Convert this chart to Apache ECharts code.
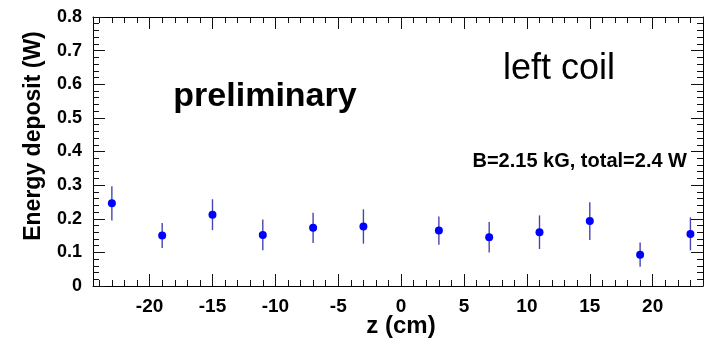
<!DOCTYPE html>
<html>
<head>
<meta charset="utf-8">
<script src="https://cdn.jsdelivr.net/npm/echarts@6/dist/echarts.min.js"></script>
<style>
html,body{margin:0;padding:0;background:#fff;}
#chart{width:708px;height:340px;}
</style>
</head>
<body>
<div id="chart"></div>
<script>
// ---- data ----
const zPositions = [-23, -19, -15, -11, -7, -3, 3, 7, 11, 15, 19, 23];
const energy     = [0.246, 0.150, 0.212, 0.152, 0.173, 0.177, 0.165, 0.145, 0.160, 0.193, 0.093, 0.155];
const errors     = [0.051, 0.037, 0.046, 0.046, 0.045, 0.051, 0.042, 0.045, 0.050, 0.056, 0.036, 0.049];
const xMajorTicks = [-20, -15, -10, -5, 0, 5, 10, 15, 20];
const xMinorTicks = [];
for (let v = -24; v <= 24; v++) xMinorTicks.push(v);
const yMin = 0, yMax = 0.8, yStep = 0.1;
const xMin = -24.5, xMax = 24;

const FONT = '"Liberation Sans", Arial, Helvetica, sans-serif';

const chart = echarts.init(document.getElementById('chart'), null, {renderer: 'canvas'});

function xAxisCfg(pos, ticks, len, showLine, showLabel) {
  return {
    type: 'value', position: pos, min: xMin, max: xMax,
    axisLine: {show: showLine, onZero: false, lineStyle: {color: '#000', width: 1}},
    axisTick: {show: true, inside: true, length: len, customValues: ticks, lineStyle: {color: '#111', width: 1}},
    axisLabel: showLabel ? {show: true, customValues: xMajorTicks, margin: 11, color: '#000',
      fontFamily: FONT, fontWeight: 'bold', fontSize: 19} : {show: false},
    splitLine: {show: false}
  };
}
function yAxisCfg(pos, showLabel) {
  return {
    type: 'value', position: pos, min: yMin, max: yMax, interval: yStep,
    axisLine: {show: true, onZero: false, lineStyle: {color: '#000', width: 1}},
    axisTick: {show: true, inside: true, length: 12, lineStyle: {color: '#111', width: 1}},
    minorTick: {show: true, splitNumber: 5, length: 6, lineStyle: {color: '#111', width: 1}},
    axisLabel: showLabel ? {show: true, margin: 11, color: '#000', fontFamily: FONT, fontWeight: 'bold', fontSize: 18,
      formatter: v => (v === 0 ? '0' : v.toFixed(1))} : {show: false},
    splitLine: {show: false}
  };
}

const option = {
  animation: false,
  backgroundColor: '#fff',
  grid: {left: 93, top: 17, width: 610, height: 269, containLabel: false},
  xAxis: [
    xAxisCfg('bottom', xMajorTicks, 12, true, true),
    xAxisCfg('bottom', xMinorTicks, 6, false, false),
    xAxisCfg('top', xMajorTicks, 12, true, false),
    xAxisCfg('top', xMinorTicks, 6, false, false)
  ],
  yAxis: [yAxisCfg('left', true), yAxisCfg('right', false)],
  series: [
    {
      type: 'custom',
      xAxisIndex: 0, yAxisIndex: 0,
      data: zPositions.map((z, i) => [z, energy[i], errors[i]]),
      encode: {x: 0, y: 1},
      z: 2,
      renderItem: function (params, api) {
        const x = api.value(0), v = api.value(1), e = api.value(2);
        const p1 = api.coord([x, v + e]);
        const p2 = api.coord([x, v - e]);
        return {type: 'line', shape: {x1: p1[0], y1: p1[1], x2: p2[0], y2: p2[1]},
          style: {stroke: '#4646b2', lineWidth: 1.4}};
      }
    },
    {
      type: 'scatter',
      xAxisIndex: 0, yAxisIndex: 0,
      data: zPositions.map((z, i) => [z, energy[i]]),
      symbol: 'circle', symbolSize: 8,
      itemStyle: {color: '#0000ff', opacity: 1},
      z: 3
    }
  ],
  graphic: [
    {type: 'text', x: 34, y: 136, rotation: Math.PI / 2,
      style: {text: 'Energy deposit (W)', x: 0, y: 0, fill: '#000', font: 'bold 23px ' + FONT,
        textAlign: 'center', textVerticalAlign: 'middle', align: 'center', verticalAlign: 'middle'}},
    {type: 'text', x: 401, y: 326,
      style: {text: 'z (cm)', x: 0, y: 0, fill: '#000', font: 'bold 24px ' + FONT,
        textAlign: 'center', textVerticalAlign: 'middle', align: 'center', verticalAlign: 'middle'}},
    {type: 'text', x: 265, y: 97,
      style: {text: 'preliminary', x: 0, y: 0, fill: '#000', font: 'bold 34px ' + FONT,
        textAlign: 'center', textVerticalAlign: 'middle', align: 'center', verticalAlign: 'middle'}},
    {type: 'text', x: 559, y: 69,
      style: {text: 'left coil', x: 0, y: 0, fill: '#000', font: '36px ' + FONT,
        textAlign: 'center', textVerticalAlign: 'middle', align: 'center', verticalAlign: 'middle'}},
    {type: 'text', x: 687, y: 161,
      style: {text: 'B=2.15 kG, total=2.4 W', x: 0, y: 0, fill: '#000', font: 'bold 20px ' + FONT,
        textAlign: 'right', textVerticalAlign: 'middle', align: 'right', verticalAlign: 'middle'}}
  ]
};
chart.setOption(option);
</script>
</body>
</html>
